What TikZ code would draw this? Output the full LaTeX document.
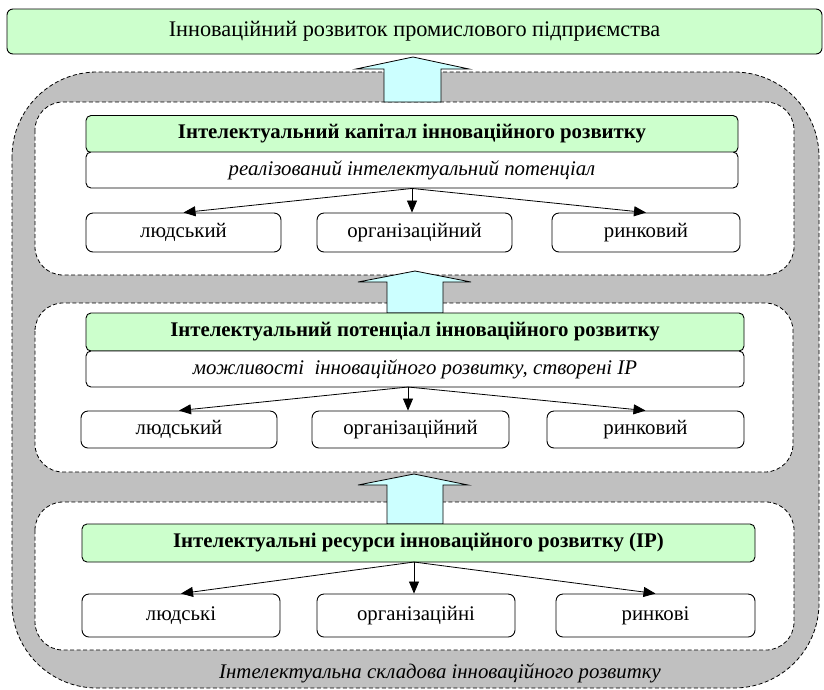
\documentclass[tikz,border=0pt]{standalone}
\usepackage{fontspec}
\setmainfont{Liberation Serif}
\usetikzlibrary{arrows.meta}
\definecolor{lgreen}{RGB}{204,255,204}
\definecolor{lcyan}{RGB}{204,255,255}
\definecolor{lgray}{RGB}{192,192,192}
\newcommand\fs{\fontsize{20.8}{24}\selectfont}
\newcommand\fst{\fontsize{22.3}{26}\selectfont}
\tikzset{
  greenbox/.style={draw, line width=0.9pt, fill=lgreen, rounded corners=5pt, inner sep=0pt, font=\fs\bfseries},
  titlebox/.style={draw, line width=0.9pt, fill=lgreen, rounded corners=6pt, inner sep=0pt, font=\fst},
  subbox/.style={draw, line width=0.9pt, fill=white, rounded corners=5pt, inner sep=0pt, font=\fs\itshape},
  itembox/.style={draw, line width=0.9pt, fill=white, rounded corners=7pt, inner sep=0pt, font=\fs},
  zone/.style={draw, line width=0.8pt, dash pattern=on 4pt off 2.5pt, fill=white, rounded corners=28pt},
  outerzone/.style={draw, line width=0.8pt, dash pattern=on 4pt off 2.5pt, fill=lgray, rounded corners=85pt},
  conn/.style={-{Triangle[length=12pt,width=10pt]}, line width=0.8pt},
  blockarrow/.style={draw, line width=0.8pt, fill=lcyan},
}
\begin{document}
\begin{tikzpicture}[x=1pt,y=-1pt]
\useasboundingbox (0,0) rectangle (824,689);
% outer gray zone
\draw[outerzone] (12,72) rectangle (819,688);
% inner zones
\draw[zone] (35,102) rectangle (794,275);
\draw[zone] (35,303) rectangle (793,472);
\draw[zone] (35,502) rectangle (794,650);

% title
\node[titlebox, minimum width=815pt, minimum height=45pt] (title) at (414.5,31.5) {Інноваційний розвиток промислового підприємства};

% block arrows
\draw[blockarrow] (384,102) -- (384,69) -- (356,69) -- (413,57) -- (469,69) -- (441,69) -- (441,102) -- cycle;
\draw[blockarrow] (387,313) -- (387,282) -- (358,282) -- (415,271) -- (471,282) -- (443,282) -- (443,313) -- cycle;
\draw[blockarrow] (387,524) -- (387,485) -- (358,485) -- (414,474) -- (468,485) -- (443,485) -- (443,524) -- cycle;

% level 1
\node[greenbox, minimum width=652pt, minimum height=37pt] (g1) at (412,134) {Інтелектуальний капітал інноваційного розвитку};
\node[subbox, minimum width=652pt, minimum height=36pt] (s1) at (412,170) {реалізований інтелектуальний потенціал};
\node[itembox, minimum width=195pt, minimum height=39pt] (a1) at (183.5,232.5) {людський};
\node[itembox, minimum width=195pt, minimum height=39pt] (b1) at (414.5,232.5) {організаційний};
\node[itembox, minimum width=188pt, minimum height=39pt] (c1) at (646,232.5) {ринковий};
\coordinate (o1) at (s1.south);
\draw[conn] (o1) -- (a1.north);
\draw[conn] (o1) -- (o1 |- b1.north);
\draw[conn] (o1) -- (c1.north);

% level 2
\node[greenbox, minimum width=658pt, minimum height=38pt] (g2) at (415,332) {Інтелектуальний потенціал інноваційного розвитку};
\node[subbox, minimum width=658pt, minimum height=36pt] (s2) at (415,369) {можливості\ \ інноваційного розвитку, створені ІР};
\node[itembox, minimum width=196pt, minimum height=37pt] (a2) at (179,429.5) {людський};
\node[itembox, minimum width=197pt, minimum height=37pt] (b2) at (410.5,429.5) {організаційний};
\node[itembox, minimum width=197pt, minimum height=37pt] (c2) at (645.5,429.5) {ринковий};
\coordinate (o2) at (408,387);
\draw[conn] (o2) -- (a2.north);
\draw[conn] (o2) -- (o2 |- b2.north);
\draw[conn] (o2) -- (c2.north);

% level 3
\node[greenbox, minimum width=673pt, minimum height=38pt] (g3) at (418.5,543) {Інтелектуальні ресурси інноваційного розвитку (ІР)};
\node[itembox, minimum width=198pt, minimum height=43pt] (a3) at (181,615.5) {людські};
\node[itembox, minimum width=198pt, minimum height=43pt] (b3) at (416,615.5) {організаційні};
\node[itembox, minimum width=199pt, minimum height=43pt] (c3) at (655.5,615.5) {ринкові};
\coordinate (o3) at (414,562);
\draw[conn] (o3) -- (a3.north);
\draw[conn] (o3) -- (o3 |- b3.north);
\draw[conn] (o3) -- (c3.north);

% zone caption
\node[font=\fs\itshape, inner sep=0pt] (cap) at (440,673) {Інтелектуальна складова інноваційного розвитку};
\end{tikzpicture}
\end{document}
